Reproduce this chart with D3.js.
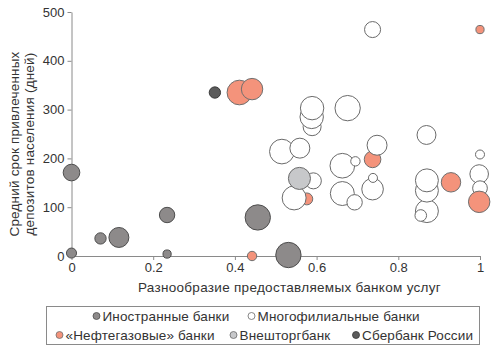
<!DOCTYPE html>
<html><head><meta charset="utf-8">
<script src="https://cdn.jsdelivr.net/npm/d3@7"></script>
<style>body{margin:0;background:#fff}svg{display:block}text{font-family:"Liberation Sans",Arial,sans-serif;fill:#333}</style>
</head><body><svg id="c" width="500" height="351"></svg>
<script>
// [diversity, deposit term (days), size]
const foreignBanks = [[0.0,171,41],[0.0,6,15],[0.071,36,19],[0.116,38,59],[0.234,84,35],[0.234,4,10],[0.456,79,95],[0.531,2,95]];
const sberbank = [[0.351,335,19]];
const oilGasBanksBack = [[0.576,117,21],[0.737,198,41]];
const oilGasBanks = [[0.411,335,90],[0.442,342,68],[1.0,464,10],[0.442,0,13],[0.929,151,56],[0.998,111,68]];
const vtb = [[0.558,159,72]];
const multiBranchBanks = [
  [0.737,464,38],[0.589,265,48],[0.588,285,81],[0.589,303,81],[0.676,303,95],
  [0.515,214,90],[0.559,221,59],[0.663,185,90],[0.695,194,13],[0.748,227,59],
  [0.869,248,53],[1.0,208,12],[0.592,154,38],[0.545,119,85],[0.663,128,85],
  [0.693,110,35],[0.737,137,69],[0.738,160,12],[0.870,92,78],[0.855,83,20],
  [0.870,134,78],[0.870,155,78],[0.998,168,51],[1.0,139,32]
];
const xTicks = [0,0.2,0.4,0.6,0.8,1];
const yTicks = [0,100,200,300,400,500];
const xTitle = "Разнообразие предоставляемых банком услуг";
const yTitle = ["Средний срок привлеченных","депозитов населения (дней)"];
const legendRow1 = [["Иностранные банки","foreign"],["Многофилиальные банки","multi"]];
const legendRow2 = [["«Нефтегазовые» банки","oil"],["Внешторгбанк","vtb"],["Сбербанк России","sber"]];

const styles = {
  foreign:{fill:"#8d8a8a",stroke:"#4d4d4d"},
  multi:{fill:"#ffffff",stroke:"#6a6a6a"},
  oil:{fill:"#f4937b",stroke:"#6f6f6f"},
  vtb:{fill:"#c7c8ca",stroke:"#6a6a6a"},
  sber:{fill:"#5c5c5c",stroke:"#3a3a3a"}
};
const FS = 13.5;

const svg = d3.select("#c");
const x = d3.scaleLinear().domain([0,1]).range([71.5,480]);
const y = d3.scaleLinear().domain([0,500]).range([256,12]);
const r = d3.scaleSqrt().domain([0,100]).range([0,13]);

const gx = svg.append("g").attr("transform","translate(0,256)")
  .call(d3.axisBottom(x).tickValues(xTicks).tickFormat(String).tickSize(4).tickSizeOuter(0).tickPadding(3));
const gy = svg.append("g").attr("transform","translate(71.5,0)")
  .call(d3.axisLeft(y).tickValues(yTicks).tickFormat(String).tickSize(4).tickSizeOuter(0).tickPadding(3));
[gx,gy].forEach(g=>{
  g.selectAll("path,line").attr("stroke","#8a8a8a");
  g.selectAll("text").attr("font-size",13).attr("fill","#333").style("font-family",'"Liberation Sans",Arial,sans-serif');
});

svg.append("text").attr("x",289.5).attr("y",291.5).attr("text-anchor","middle")
  .attr("font-size",FS).attr("letter-spacing",0.3).text(xTitle);
yTitle.forEach((t,i)=>{
  svg.append("text").attr("transform",`translate(${19+i*15},144) rotate(-90)`)
    .attr("text-anchor","middle").attr("font-size",FS).attr("letter-spacing",0.2).text(t);
});

const layers = [
  [foreignBanks,"foreign"],[sberbank,"sber"],[oilGasBanksBack,"oil"],
  [multiBranchBanks,"multi"],[vtb,"vtb"],[oilGasBanks,"oil"]
];
layers.forEach(([data,k])=>{
  svg.append("g").selectAll("circle").data(data).join("circle")
    .attr("cx",d=>x(d[0])).attr("cy",d=>y(d[1])).attr("r",d=>r(d[2]))
    .attr("fill",styles[k].fill).attr("stroke",styles[k].stroke).attr("stroke-width",1);
});

// legend
svg.append("rect").attr("x",46.5).attr("y",306.5).attr("width",433).attr("height",38)
  .attr("fill","#fff").attr("stroke","#8a8a8a");
function legendRow(items, xs, yc){
  items.forEach(([label,k],i)=>{
    svg.append("circle").attr("cx",xs[i]).attr("cy",yc).attr("r",3.5)
      .attr("fill",styles[k].fill).attr("stroke",styles[k].stroke).attr("stroke-width",0.8);
    svg.append("text").attr("x",xs[i]+6).attr("y",yc+5).attr("font-size",FS).attr("letter-spacing",0.15).text(label);
  });
}
legendRow(legendRow1,[96.5,251.5],316);
legendRow(legendRow2,[59.5,233.5,356],335);
</script></body></html>
